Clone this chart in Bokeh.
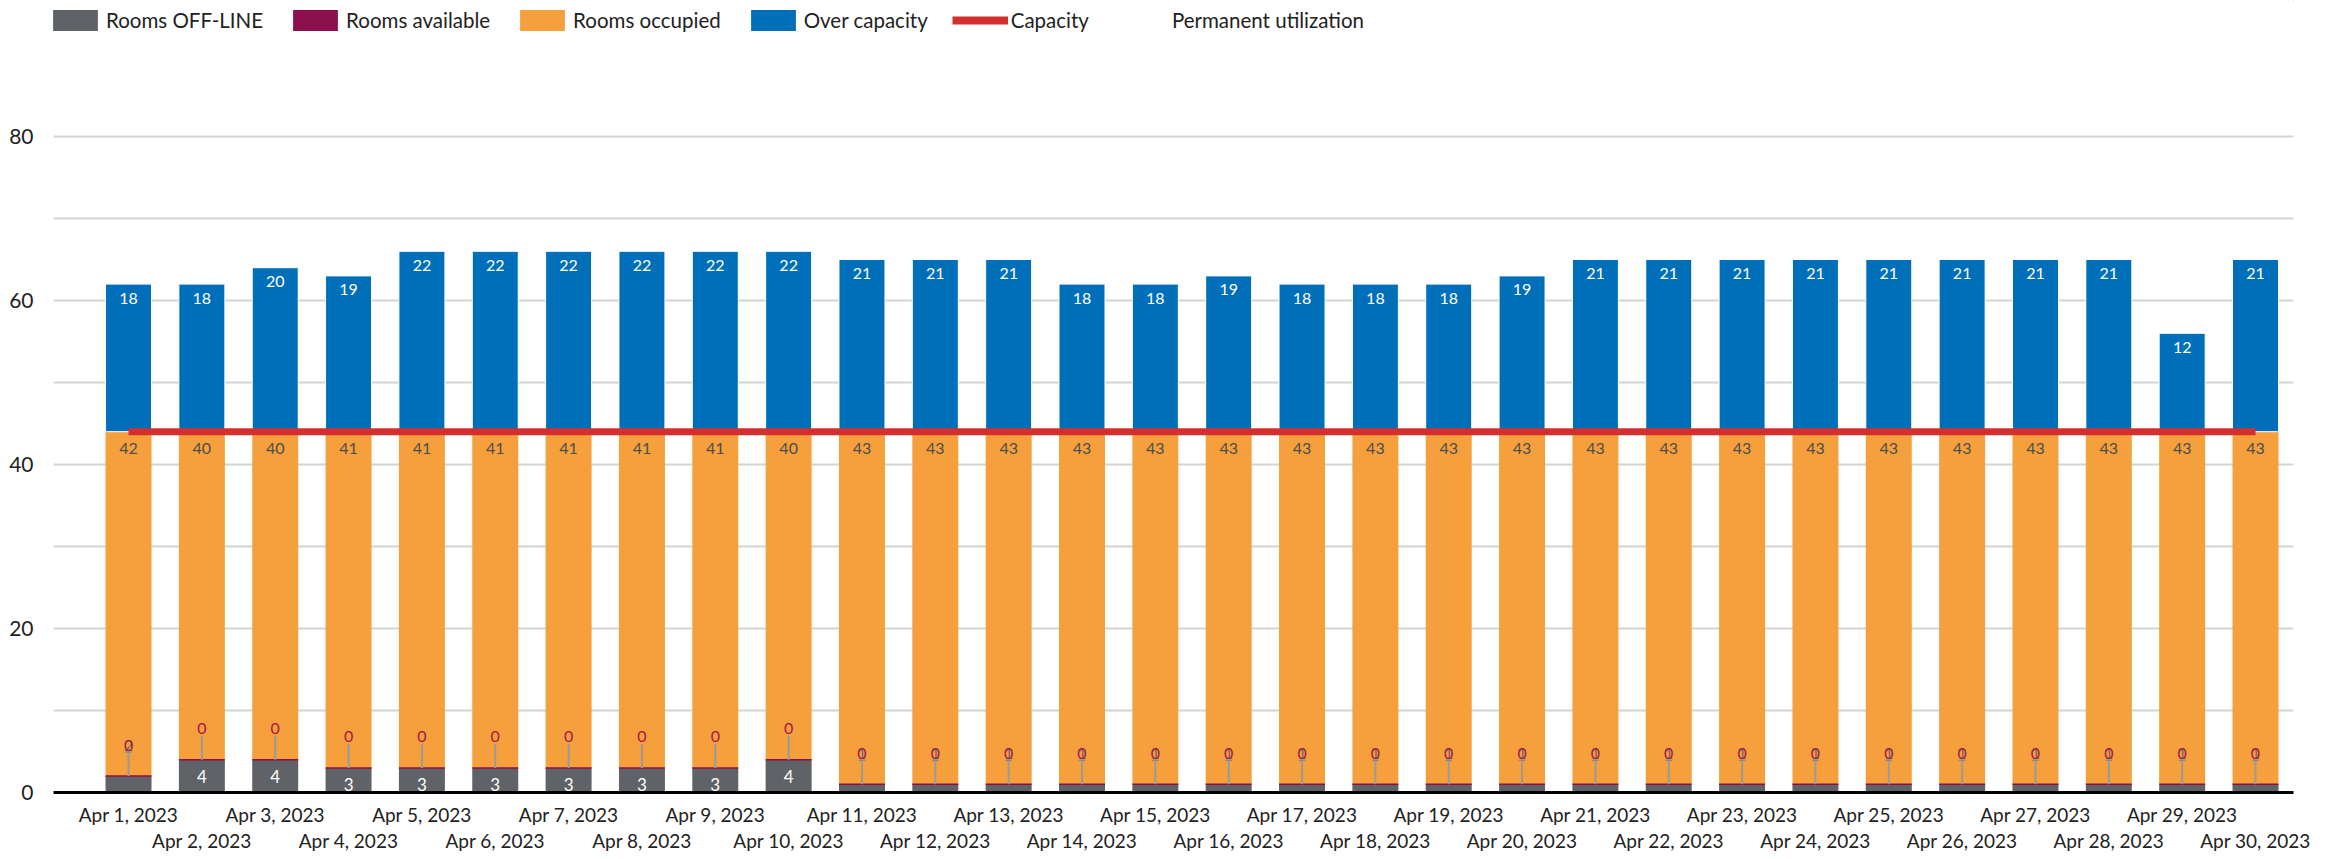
from bokeh.plotting import figure
from bokeh.layouts import column
from bokeh.models import FixedTicker, LinearAxis, Legend, LegendItem, Range1d
from bokeh.core.properties import value
from bokeh.embed import file_html
from bokeh.resources import INLINE

days = list(range(1, 31))
date_labels = [
    "Apr 1, 2023", "Apr 2, 2023", "Apr 3, 2023", "Apr 4, 2023", "Apr 5, 2023",
    "Apr 6, 2023", "Apr 7, 2023", "Apr 8, 2023", "Apr 9, 2023", "Apr 10, 2023",
    "Apr 11, 2023", "Apr 12, 2023", "Apr 13, 2023", "Apr 14, 2023", "Apr 15, 2023",
    "Apr 16, 2023", "Apr 17, 2023", "Apr 18, 2023", "Apr 19, 2023", "Apr 20, 2023",
    "Apr 21, 2023", "Apr 22, 2023", "Apr 23, 2023", "Apr 24, 2023", "Apr 25, 2023",
    "Apr 26, 2023", "Apr 27, 2023", "Apr 28, 2023", "Apr 29, 2023", "Apr 30, 2023",
]
rooms_offline = [2, 4, 4, 3, 3, 3, 3, 3, 3, 4,
                 1, 1, 1, 1, 1, 1, 1, 1, 1, 1,
                 1, 1, 1, 1, 1, 1, 1, 1, 1, 1]
rooms_available = [0, 0, 0, 0, 0, 0, 0, 0, 0, 0,
                   0, 0, 0, 0, 0, 0, 0, 0, 0, 0,
                   0, 0, 0, 0, 0, 0, 0, 0, 0, 0]
rooms_occupied = [42, 40, 40, 41, 41, 41, 41, 41, 41, 40,
                  43, 43, 43, 43, 43, 43, 43, 43, 43, 43,
                  43, 43, 43, 43, 43, 43, 43, 43, 43, 43]
over_capacity = [18, 18, 20, 19, 22, 22, 22, 22, 22, 22,
                 21, 21, 21, 18, 18, 19, 18, 18, 18, 19,
                 21, 21, 21, 21, 21, 21, 21, 21, 12, 21]
capacity = 44
legend_labels = ["Rooms OFF-LINE", "Rooms available", "Rooms occupied",
                 "Over capacity", "Capacity", "Permanent utilization"]

FONT = "Lato"
GRAY = "#5f6368"
PURPLE = "#8b0f4c"
ORANGE = "#f5a03c"
BLUE = "#006fba"
RED = "#d42f2f"
BW = 0.627

W = 2325
TOP_H = 53
H = 859 - TOP_H
TOP_B = 1
FRAME_H = 738
BOT_B = H - TOP_B - FRAME_H
PX = FRAME_H / 90.0  # px per unit

# ---------------- legend strip ----------------
lg = figure(width=W, height=TOP_H, x_range=Range1d(0, 1), y_range=Range1d(0, 1),
            output_backend="svg", toolbar_location=None, x_axis_type=None, y_axis_type=None,
            min_border_left=0, min_border_right=0, min_border_top=0, min_border_bottom=0)
lg.outline_line_color = None
lg.xgrid.grid_line_color = None
lg.ygrid.grid_line_color = None
# swatch renderers (their single point lies outside the visible range)
d_off = lg.vbar(x=[5], width=0.1, top=[5], bottom=[4], fill_color=GRAY, line_color=None)
d_av = lg.vbar(x=[5], width=0.1, top=[5], bottom=[4], fill_color=PURPLE, line_color=None)
d_occ = lg.vbar(x=[5], width=0.1, top=[5], bottom=[4], fill_color=ORANGE, line_color=None)
d_ov = lg.vbar(x=[5], width=0.1, top=[5], bottom=[4], fill_color=BLUE, line_color=None)
d_cap = lg.line(x=[5, 6], y=[5, 5], line_color=RED, line_width=8)
d_perm = lg.line(x=[5, 6], y=[5, 5], line_alpha=0)
legend = Legend(items=[LegendItem(label=t, renderers=[r]) for t, r in zip(
    legend_labels, [d_off, d_av, d_occ, d_ov, d_cap, d_perm])],
    orientation="horizontal", location=(-6, 20),
    glyph_width=56, glyph_height=26, label_standoff=3, spacing=24,
    padding=0, margin=0, border_line_alpha=0, background_fill_alpha=0,
    label_text_font=FONT, label_text_font_size="20.5px", label_text_color="#222222")
lg.add_layout(legend)

# ---------------- main chart ----------------
p = figure(width=W, height=H, x_range=Range1d(-0.023, 30.518), y_range=Range1d(0, 90),
           output_backend="svg", toolbar_location=None, x_axis_type=None,
           min_border_left=53, min_border_right=32, min_border_top=TOP_B, min_border_bottom=BOT_B)
p.outline_line_color = None
p.xgrid.grid_line_color = None
p.ygrid.grid_line_color = "#d3d3d3"
p.ygrid.grid_line_width = 2
p.ygrid.minor_grid_line_color = "#d3d3d3"
p.ygrid.minor_grid_line_width = 2

yt = FixedTicker(ticks=[0, 20, 40, 60, 80], minor_ticks=[10, 30, 50, 70, 90])
p.yaxis.ticker = yt
p.ygrid.ticker = yt
p.yaxis.axis_line_color = None
p.yaxis.major_tick_line_color = None
p.yaxis.minor_tick_line_color = None
p.yaxis.major_tick_out = 0
p.yaxis.minor_tick_out = 0
p.yaxis.major_label_standoff = 20
p.yaxis.major_label_text_font = FONT
p.yaxis.major_label_text_font_size = "21px"
p.yaxis.major_label_text_color = "#222222"

off_top = rooms_offline
occ_bottom = [o + a for o, a in zip(rooms_offline, rooms_available)]
occ_top = [b + c for b, c in zip(occ_bottom, rooms_occupied)]
over_top = [t + v for t, v in zip(occ_top, over_capacity)]

p.vbar(x=days, width=BW, bottom=0, top=off_top, fill_color=GRAY, line_color=None)
p.vbar(x=days, width=BW, bottom=off_top, top=occ_bottom, fill_color=PURPLE, line_color=None)
p.vbar(x=days, width=BW, bottom=occ_bottom, top=occ_top, fill_color=ORANGE, line_color=None)
p.vbar(x=days, width=BW, bottom=occ_top, top=over_top, fill_color=BLUE,
       line_color="white", line_width=1)
# thin line marking the (empty) available segment
p.segment(x0=[d - BW / 2 for d in days], x1=[d + BW / 2 for d in days],
          y0=occ_bottom, y1=occ_bottom, line_color=PURPLE, line_width=1.5)

p.line(x=[days[0], days[-1]], y=[capacity, capacity], line_color=RED, line_width=7)

# value labels
p.text(x=days, y=occ_top, text=[str(v) for v in rooms_occupied], y_offset=17,
       text_align="center", text_baseline="middle", text_font=value(FONT),
       text_font_size="16px", text_color="#4d4d4d")
p.text(x=days, y=over_top, text=[str(v) for v in over_capacity], y_offset=14,
       text_align="center", text_baseline="middle", text_font=value(FONT),
       text_font_size="16px", text_color="white")

big = [i for i, v in enumerate(rooms_offline) if v >= 3]
small = [i for i, v in enumerate(rooms_offline) if v < 3]
p.text(x=[days[i] for i in big], y=[off_top[i] for i in big],
       text=[str(rooms_offline[i]) for i in big], y_offset=17,
       text_align="center", text_baseline="middle", text_font=value(FONT),
       text_font_size="17px", text_color="white")

LEAD = 24 / PX
p.segment(x0=days, x1=days, y0=occ_bottom, y1=[b + LEAD for b in occ_bottom],
          line_color="#9a9a9a", line_width=2)
p.segment(x0=[days[i] - 0.045 for i in small], x1=[days[i] + 0.045 for i in small],
          y0=[off_top[i] + LEAD for i in small], y1=[off_top[i] + LEAD for i in small],
          line_color="#8a8a8a", line_width=1.5)
p.text(x=[days[i] for i in small], y=[off_top[i] for i in small],
       text=[str(rooms_offline[i]) for i in small], y_offset=-31,
       text_align="center", text_baseline="middle", text_font=value(FONT),
       text_font_size="15px", text_color="#6b6b6b")
p.text(x=days, y=occ_bottom, text=[str(v) for v in rooms_available], y_offset=-31,
       text_align="center", text_baseline="middle", text_font=value(FONT),
       text_font_size="16px", text_color="#a8174a")

# date axis, labels staggered on two rows
overrides = {d: (s if d % 2 == 1 else "\n" + s) for d, s in zip(days, date_labels)}
ax = LinearAxis(ticker=FixedTicker(ticks=days), major_label_overrides=overrides)
ax.major_tick_line_color = None
ax.minor_tick_line_color = None
ax.major_tick_out = 0
ax.major_tick_in = 0
ax.minor_tick_out = 0
ax.minor_tick_in = 0
ax.major_label_text_font = FONT
ax.major_label_text_font_size = "19px"
ax.major_label_text_line_height = 1.14
ax.major_label_text_color = "#222222"
ax.axis_line_color = "black"
ax.axis_line_width = 3
ax.major_label_standoff = 10
p.add_layout(ax, "below")

open("out.html", "w").write(file_html(column(lg, p, spacing=0), INLINE))
